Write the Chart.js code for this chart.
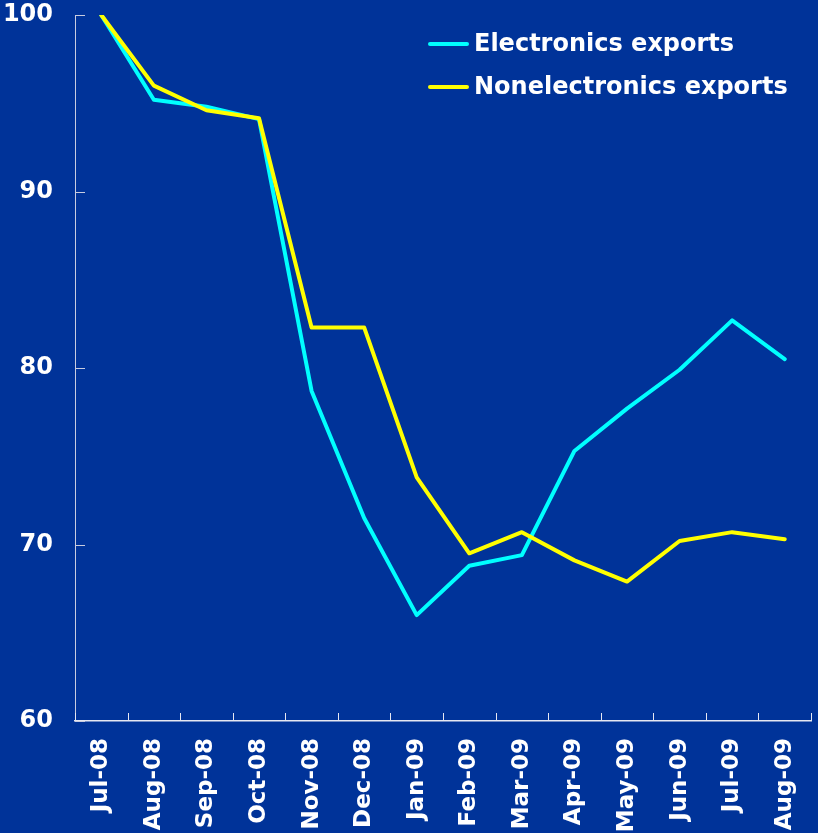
<!DOCTYPE html>
<html>
<head>
<meta charset="utf-8">
<script src="https://cdn.jsdelivr.net/npm/chart.js@4.4.1/dist/chart.umd.min.js"></script>
<style>
  html, body { margin: 0; padding: 0; background: #003399; }
  #wrap { width: 818px; height: 833px; }
</style>
</head>
<body>
<div id="wrap"><canvas id="chart" width="818" height="833"></canvas></div>
<script>
// index values, Jul-08 = 100
const months = ['Jul-08', 'Aug-08', 'Sep-08', 'Oct-08', 'Nov-08', 'Dec-08', 'Jan-09',
                'Feb-09', 'Mar-09', 'Apr-09', 'May-09', 'Jun-09', 'Jul-09', 'Aug-09'];
const electronics = [100, 95.2, 94.8, 94.1, 78.7, 71.5, 66.0, 68.8, 69.4, 75.3, 77.7, 79.9, 82.7, 80.5];
const nonElectronics = [100, 96.0, 94.6, 94.15, 82.3, 82.3, 73.8, 69.5, 70.7, 69.1, 67.9, 70.2, 70.7, 70.3];
const yTicks = [60, 70, 80, 90, 100];

const BG = '#003399';
const FONT = 'DejaVu Sans, Verdana, sans-serif';

// paint the blue backdrop
const bgPlugin = {
  id: 'bg',
  beforeDraw(chart) {
    const ctx = chart.ctx;
    ctx.save();
    ctx.fillStyle = BG;
    ctx.fillRect(0, 0, chart.width, chart.height);
    ctx.restore();
  }
};

// small tick marks pointing into the plot area
const innerTicks = {
  id: 'innerTicks',
  afterDraw(chart) {
    const { ctx, chartArea, scales } = chart;
    ctx.save();
    ctx.lineWidth = 1;
    ctx.strokeStyle = '#c8cce0';
    yTicks.forEach(v => {
      const y = Math.round(scales.y.getPixelForValue(v)) + 0.5;
      ctx.beginPath();
      ctx.moveTo(chartArea.left, y);
      ctx.lineTo(chartArea.left + 10, y);
      ctx.stroke();
    });
    ctx.strokeStyle = '#e6e8f2';
    const step = (chartArea.right - chartArea.left) / months.length;
    for (let i = 0; i <= months.length; i++) {
      const x = Math.round(chartArea.left + i * step) + 0.5;
      ctx.beginPath();
      ctx.moveTo(x, chartArea.bottom);
      ctx.lineTo(x, chartArea.bottom - 8);
      ctx.stroke();
    }
    ctx.restore();
  }
};

// legend drawn inside the plot, top right
const innerLegend = {
  id: 'innerLegend',
  afterDraw(chart) {
    const ctx = chart.ctx;
    const rows = [44, 87];
    ctx.save();
    ctx.font = 'bold 24px ' + FONT;
    ctx.textBaseline = 'middle';
    chart.data.datasets.forEach((ds, i) => {
      const y = rows[i];
      ctx.strokeStyle = ds.borderColor;
      ctx.lineWidth = 4;
      ctx.lineCap = 'round';
      ctx.beginPath();
      ctx.moveTo(430, y);
      ctx.lineTo(467, y);
      ctx.stroke();
      ctx.fillStyle = '#ffffff';
      ctx.fillText(ds.label, 474, y + 1);
    });
    ctx.restore();
  }
};

new Chart(document.getElementById('chart'), {
  type: 'line',
  data: {
    labels: months,
    datasets: [
      {
        label: 'Electronics exports',
        data: electronics,
        borderColor: '#00ffff',
        borderWidth: 4,
        order: 1
      },
      {
        label: 'Nonelectronics exports',
        data: nonElectronics,
        borderColor: '#ffff00',
        borderWidth: 4,
        order: 0
      }
    ]
  },
  options: {
    responsive: false,
    animation: false,
    layout: { padding: { top: 15, right: 7, left: 0, bottom: 0 } },
    elements: {
      point: { radius: 0 },
      line: { tension: 0, borderCapStyle: 'round', borderJoinStyle: 'round' }
    },
    plugins: {
      legend: { display: false },
      tooltip: { enabled: false }
    },
    scales: {
      x: {
        offset: true,
        afterFit(s) {
          s.height = 112;
          s.paddingLeft = 0;
          s.paddingRight = 0;
        },
        grid: { display: true, drawOnChartArea: false, drawTicks: false, offset: true },
        border: { color: '#e6e8f2', width: 1.5 },
        ticks: {
          color: '#ffffff',
          font: { family: FONT, size: 23, weight: 'bold' },
          maxRotation: 90,
          minRotation: 90,
          padding: 17,
          autoSkip: false
        }
      },
      y: {
        min: 60,
        max: 100,
        afterFit(s) {
          s.width = 75;
          s.paddingTop = 0;
          s.paddingBottom = 0;
        },
        afterBuildTicks(s) { s.ticks = yTicks.map(v => ({ value: v })); },
        grid: { display: true, drawOnChartArea: false, drawTicks: false },
        border: { color: '#c8cce0', width: 1 },
        ticks: {
          color: '#ffffff',
          font: { family: FONT, size: 24, weight: 'bold' },
          padding: 22
        }
      }
    }
  },
  plugins: [bgPlugin, innerTicks, innerLegend]
});
</script>
</body>
</html>
